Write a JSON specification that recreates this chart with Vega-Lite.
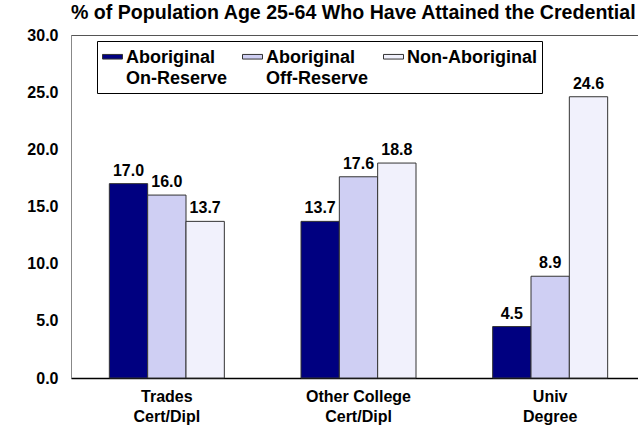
{
  "$schema": "https://vega.github.io/schema/vega-lite/v6.json",
  "autosize": {"type": "none"},
  "padding": {"left": 71, "top": 35, "right": 0, "bottom": 49},
  "width": 575,
  "height": 343,
  "background": "white",
  "title": {
    "text": "% of Population Age 25-64 Who Have Attained the Credential",
    "anchor": "start",
    "frame": "group",
    "font": "Liberation Sans",
    "fontSize": 19.6,
    "fontWeight": "bold",
    "color": "black",
    "offset": 3
  },
  "data": {
    "values": [
      {"credential": "Trades|Cert/Dipl", "series": "Aboriginal|On-Reserve", "pct": 17.0},
      {"credential": "Trades|Cert/Dipl", "series": "Aboriginal|Off-Reserve", "pct": 16.0},
      {"credential": "Trades|Cert/Dipl", "series": "Non-Aboriginal|", "pct": 13.7},
      {"credential": "Other College|Cert/Dipl", "series": "Aboriginal|On-Reserve", "pct": 13.7},
      {"credential": "Other College|Cert/Dipl", "series": "Aboriginal|Off-Reserve", "pct": 17.6},
      {"credential": "Other College|Cert/Dipl", "series": "Non-Aboriginal|", "pct": 18.8},
      {"credential": "Univ|Degree", "series": "Aboriginal|On-Reserve", "pct": 4.5},
      {"credential": "Univ|Degree", "series": "Aboriginal|Off-Reserve", "pct": 8.9},
      {"credential": "Univ|Degree", "series": "Non-Aboriginal|", "pct": 24.6}
    ]
  },
  "encoding": {
    "x": {
      "field": "credential",
      "type": "nominal",
      "sort": ["Trades|Cert/Dipl", "Other College|Cert/Dipl", "Univ|Degree"],
      "scale": {"paddingInner": 0.4, "paddingOuter": 0.2},
      "axis": {
        "title": null,
        "labelAngle": 0,
        "labelExpr": "split(datum.label, '|')",
        "labelFont": "Liberation Sans",
        "labelFontSize": 16,
        "labelFontWeight": "bold",
        "labelColor": "black",
        "labelLineHeight": 20,
        "labelPadding": 10,
        "ticks": false,
        "domainColor": "black",
        "domainWidth": 1.5
      }
    },
    "xOffset": {
      "field": "series",
      "type": "nominal",
      "sort": ["Aboriginal|On-Reserve", "Aboriginal|Off-Reserve", "Non-Aboriginal|"]
    },
    "y": {
      "field": "pct",
      "type": "quantitative",
      "scale": {"domain": [0, 30]},
      "axis": {
        "title": null,
        "values": [0, 5, 10, 15, 20, 25, 30],
        "format": ".1f",
        "grid": false,
        "ticks": false,
        "labelPadding": 13,
        "labelFont": "Liberation Sans",
        "labelFontSize": 16,
        "labelFontWeight": "bold",
        "labelColor": "black",
        "domainColor": "#888888"
      }
    }
  },
  "layer": [
    {
      "mark": {"type": "bar", "stroke": "#333333", "strokeWidth": 1},
      "encoding": {
        "color": {
          "field": "series",
          "type": "nominal",
          "scale": {
            "domain": ["Aboriginal|On-Reserve", "Aboriginal|Off-Reserve", "Non-Aboriginal|"],
            "range": ["#000080", "#cfcff3", "#f1f1fc"]
          },
          "legend": {
            "title": null,
            "orient": "none",
            "legendX": 26,
            "legendY": 6,
            "direction": "horizontal",
            "columns": 3,
            "gridAlign": "each",
            "columnPadding": 12,
            "labelExpr": "split(datum.label, '|')",
            "labelFont": "Liberation Sans",
            "labelFontSize": 18,
            "labelFontWeight": "bold",
            "labelColor": "black",
            "labelLimit": 300,
            "labelOffset": 3,
            "labelBaseline": "top",
            "symbolType": "M-1,-0.23H1V0.23H-1Z",
            "symbolSize": 400,
            "symbolStrokeColor": "#333333",
            "symbolStrokeWidth": 1,
            "symbolOpacity": 1,
            "strokeColor": "black",
            "fillColor": "white",
            "padding": 5,
            "encode": {
              "labels": {"update": {"lineHeight": {"value": 21}, "dy": {"value": -8}}}
            }
          }
        }
      }
    },
    {
      "mark": {
        "type": "text",
        "dy": -8,
        "baseline": "alphabetic",
        "font": "Liberation Sans",
        "fontSize": 16,
        "fontWeight": "bold",
        "color": "black"
      },
      "encoding": {
        "text": {"field": "pct", "type": "quantitative", "format": ".1f"}
      }
    }
  ],
  "config": {
    "view": {"stroke": "#555555"}
  }
}
